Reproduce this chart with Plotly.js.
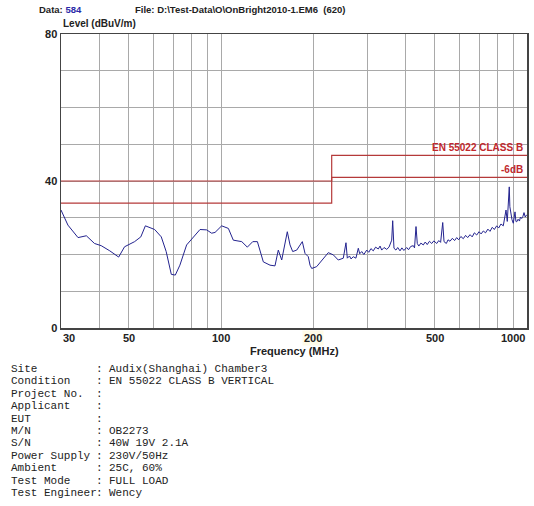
<!DOCTYPE html>
<html>
<head>
<meta charset="utf-8">
<script src="https://cdn.plot.ly/plotly-3.0.1.min.js"></script>
<style>html,body{margin:0;padding:0;background:#fff;}#chart{width:534px;height:506px;}</style>
</head>
<body>
<div id="chart"></div>
<script>
// Measured emission (frequency MHz, level dBuV/m)
const freqMHz = [30.0, 31.6, 34.1, 36.3, 38.6, 40.6, 43.3, 46.3, 48.4, 52.2, 54.7, 56.6, 60.7, 63.8, 66.2, 68.8, 70.9,
  73.4, 77.2, 81.2, 85.4, 89.8, 93.2, 95.6, 100.5, 105.7, 109.7, 116.9, 121.9, 127.0, 131.5, 137.5, 144.6, 150.1,
  153.9, 157.9, 161.0, 164.7, 168.1, 171.5, 176.8, 184.4, 188.2, 192.9, 195.4, 197.9, 205.4, 213.4, 224.2, 232.8,
  241.7, 251.0, 256.1, 258.7, 263, 266, 270.6, 276, 281.0, 284, 288.3, 293, 299.3, 304, 309, 314.5, 320, 326.6,
  331, 335.1, 341, 348.0, 354, 361.3, 364.0, 367.5, 373, 378, 384.6, 390, 396, 404.4, 410, 417, 425.1, 429, 433.8,
  438.0, 443, 450, 458.3, 465, 472, 480, 488.2, 496, 507.0, 515, 522, 530.4, 535.6, 545, 552, 560.2, 570, 580,
  589.2, 598, 608, 619.1, 630, 640, 651.4, 662, 673, 684.9, 697, 708, 719.8, 732, 745, 756.9, 770, 782, 796.1,
  808, 822, 836.6, 845, 853.8, 862, 870, 875.2, 879, 884.4, 893, 902.0, 908, 913.7, 920, 925.4, 935, 945, 952,
  960.8, 970, 977.7, 987, 997.6];
const levelDb = [32.1, 28.0, 24.6, 25.1, 23.0, 22.4, 21.0, 19.3, 22.1, 23.5, 24.8, 27.8, 26.8, 24.8, 20.8, 14.6, 14.4,
  17.1, 22.6, 24.8, 26.8, 26.7, 25.8, 26.0, 27.8, 27.1, 23.9, 23.5, 22.0, 23.5, 23.5, 18.0, 17.1, 16.9,
  21.2, 18.5, 21.7, 26.2, 22.6, 20.8, 21.2, 23.5, 20.3, 19.4, 17.1, 16.2, 16.7, 18.5, 20.5, 19.9,
  18.5, 19.0, 23.2, 19.0, 19.6, 18.8, 19.4, 19.0, 21.7, 20.2, 20.8, 20.0, 21.2, 20.6, 21.6, 21.0, 22.0, 21.5,
  22.3, 21.2, 21.9, 21.4, 22.0, 23.9, 29.2, 21.7, 21.2, 21.9, 21.0, 21.8, 21.1, 21.9, 21.3, 22.2, 22.4, 21.8, 27.6,
  23.0, 22.3, 23.1, 22.6, 23.4, 22.7, 23.6, 23.0, 23.7, 23.0, 23.8, 23.3, 28.7, 23.5, 23.0, 24.0, 23.6, 24.4, 23.8,
  24.6, 24.0, 24.9, 24.3, 25.2, 24.6, 25.4, 24.8, 25.9, 25.3, 26.2, 25.6, 26.4, 25.9, 26.9, 26.3, 27.4, 26.8, 27.8,
  27.2, 28.3, 27.8, 29.5, 32.1, 29.0, 34.5, 38.4, 33.0, 31.2, 29.5, 28.5, 30.0, 31.6, 29.0, 28.9, 29.6, 29.1, 30.2,
  29.8, 30.4, 31.4, 30.2, 30.8];

// Limit lines
const limitFreq = [30, 230, 230, 1000];
const limitLevel = [40, 40, 47, 47];
const marginLevel = [34, 34, 41, 41];
const limitLabels = ["EN 55022 CLASS B", "-6dB"];

// Axis ticks / grid
const xGrid = [30, 40, 50, 60, 70, 80, 90, 100, 200, 300, 400, 500, 600, 700, 800, 900, 1000];
const xLabelled = [30, 50, 100, 200, 500, 1000];
const yTicks = [0, 40, 80];
const xTitle = "Frequency (MHz)";
const yTitle = "Level (dBuV/m)";

// Header and info block
const dataNo = "584";
const fileText = "File: D:\\Test-Data\\O\\OnBright2010-1.EM6  (620)";
const infoLabels = ["Site", "Condition", "Project No.", "Applicant", "EUT", "M/N", "S/N", "Power Supply", "Ambient", "Test Mode", "Test Engineer"];
const infoValues = ["Audix(Shanghai) Chamber3", "EN 55022 CLASS B VERTICAL", "", "", "", "OB2273", "40W 19V 2.1A", "230V/50Hz", "25C, 60%", "FULL LOAD", "Wency"];

const W = 534, H = 506;
const M = {l: 61, r: 7, t: 34, b: 178};
const pw = W - M.l - M.r, ph = H - M.t - M.b;
const px2x = px => (px - M.l) / pw;
const py2y = py => (H - M.b - py) / ph;

const sans = "Liberation Sans, Arial, sans-serif";
const mono = "Courier New, Liberation Mono, monospace";
const red = "#c0282d";
const grid = "#a9a9a9";
const tickFont = {family: sans, size: 11, color: "#222"};

const traces = [
  {x: limitFreq, y: limitLevel, mode: "lines", line: {color: "#b53a3a", width: 1.2}, hoverinfo: "skip"},
  {x: limitFreq, y: marginLevel, mode: "lines", line: {color: "#b53a3a", width: 1.2}, hoverinfo: "skip"},
  {x: freqMHz, y: levelDb, mode: "lines", line: {color: "#23238f", width: 1}}
];

const annotations = [
  {xref: "paper", yref: "paper", x: px2x(37), y: py2y(9), xanchor: "left", yanchor: "middle", showarrow: false,
   text: "<b>Data: <span style='color:#2a2aa8'>" + dataNo + "</span></b>", font: {family: sans, size: 9.5, color: "#222"}},
  {xref: "paper", yref: "paper", x: px2x(133), y: py2y(9), xanchor: "left", yanchor: "middle", showarrow: false,
   text: "<b>" + fileText + "</b>", font: {family: sans, size: 9.5, color: "#222"}},
  {xref: "paper", yref: "paper", x: px2x(61), y: py2y(24), xanchor: "left", yanchor: "middle", showarrow: false,
   text: "<b>" + yTitle + "</b>", font: {family: sans, size: 10, color: "#222"}},
  {xref: "paper", yref: "paper", x: px2x(294), y: py2y(351), xanchor: "center", yanchor: "middle", showarrow: false,
   text: "<b>" + xTitle + "</b>", font: {family: sans, size: 11, color: "#222"}},
  {xref: "paper", yref: "y", x: 1, y: limitLevel[3], xanchor: "right", yanchor: "bottom", xshift: -2, showarrow: false,
   text: "<b>" + limitLabels[0] + "</b>", font: {family: sans, size: 10, color: red}},
  {xref: "paper", yref: "y", x: 1, y: marginLevel[3], xanchor: "right", yanchor: "bottom", xshift: -2, showarrow: false,
   text: "<b>" + limitLabels[1] + "</b>", font: {family: sans, size: 10, color: red}}
];

// x tick labels placed on the log axis (annotation x on a log axis is log10 of the value)
xLabelled.forEach((v, i) => {
  const anchor = i === 0 ? "left" : (i === xLabelled.length - 1 ? "right" : "center");
  annotations.push({xref: "x", yref: "paper", x: Math.log10(v), y: 0, xanchor: anchor, yanchor: "top", yshift: -2,
    showarrow: false, text: "<b>" + String(v) + "</b>", font: tickFont, bgcolor: v === 200 ? "#fffbe8" : "rgba(0,0,0,0)"});
});

infoLabels.forEach((lab, i) => {
  const py = 369 + i * 12.4;
  annotations.push({xref: "paper", yref: "paper", x: px2x(9), y: py2y(py), xanchor: "left", yanchor: "middle", showarrow: false,
    text: lab, font: {family: mono, size: 11, color: "#222"}});
  annotations.push({xref: "paper", yref: "paper", x: px2x(94), y: py2y(py), xanchor: "left", yanchor: "middle", showarrow: false,
    text: ":", font: {family: mono, size: 11, color: "#222"}});
  if (infoValues[i]) {
    annotations.push({xref: "paper", yref: "paper", x: px2x(107), y: py2y(py), xanchor: "left", yanchor: "middle", showarrow: false,
      text: infoValues[i], font: {family: mono, size: 11, color: "#222"}});
  }
});

const layout = {
  width: W, height: H,
  margin: M,
  paper_bgcolor: "#fff", plot_bgcolor: "#fff",
  showlegend: false,
  xaxis: {
    type: "log", range: [Math.log10(30), Math.log10(1000)],
    tickmode: "array", tickvals: xGrid, showticklabels: false,
    ticks: "", showgrid: true, gridcolor: grid, gridwidth: 1,
    showline: true, linecolor: "#444", linewidth: 1.5, mirror: true, zeroline: false
  },
  yaxis: {
    range: [0, 80], tickvals: yTicks, ticktext: yTicks.map(String),
    ticks: "", showgrid: true, gridcolor: grid, gridwidth: 1,
    minor: {dtick: 10, showgrid: true, gridcolor: grid, gridwidth: 1, ticks: ""},
    showline: true, linecolor: "#444", linewidth: 1.5, mirror: true, zeroline: false,
    tickfont: Object.assign({weight: "bold"}, tickFont)
  },
  annotations: annotations
};

Plotly.newPlot("chart", traces, layout, {staticPlot: true, displayModeBar: false});
</script>
</body>
</html>
